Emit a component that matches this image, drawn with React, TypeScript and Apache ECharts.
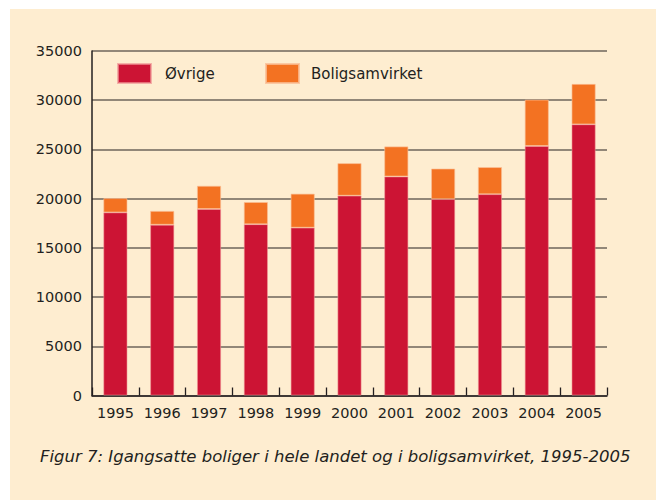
import React, { useEffect, useRef } from "react";
import * as echarts from "echarts";

const years = ["1995", "1996", "1997", "1998", "1999", "2000", "2001", "2002", "2003", "2004", "2005"];
const ovrige = [18600, 17350, 18950, 17400, 17050, 20300, 22250, 19950, 20450, 25350, 27550];
const boligsamvirket = [1450, 1400, 2350, 2250, 3450, 3300, 3050, 3100, 2750, 4700, 4100];
const caption = "Figur 7: Igangsatte boliger i hele landet og i boligsamvirket, 1995-2005";

const FONT = "'DejaVu Sans', 'Noto Sans', sans-serif";
const RED = "#CC1434";
const ORANGE = "#F37222";
const INK = "#231f20";

export default function App() {
  const ref = useRef<HTMLDivElement>(null);
  useEffect(() => {
    if (!ref.current) return;
    const chart = echarts.init(ref.current, null, { renderer: "svg" });
    chart.setOption({
      animation: false,
      backgroundColor: "#ffffff",
      textStyle: { fontFamily: FONT },
      grid: { left: 92, right: 49, top: 51, bottom: 104.5, containLabel: false },
      legend: [
        {
          data: ["Øvrige"],
          left: 117,
          top: 63,
          padding: 0,
          itemWidth: 33,
          itemHeight: 19,
          itemGap: 0,
          icon: "rect",
          textStyle: { fontFamily: FONT, fontSize: 15, color: INK, padding: [0, 0, 5, 9] },
          selectedMode: false,
        },
        {
          data: ["Boligsamvirket"],
          left: 265,
          top: 63,
          padding: 0,
          itemWidth: 33,
          itemHeight: 19,
          itemGap: 0,
          icon: "rect",
          textStyle: { fontFamily: FONT, fontSize: 15, color: INK, padding: [0, 0, 0, 7] },
          selectedMode: false,
        },
      ],
      xAxis: {
        type: "category",
        data: years,
        boundaryGap: true,
        axisLine: { show: true, lineStyle: { color: INK, width: 1.5 } },
        axisTick: { show: true, inside: true, length: 8, interval: 0, alignWithLabel: false, lineStyle: { color: INK, width: 1.3 } },
        axisLabel: { fontFamily: FONT, fontSize: 14.5, color: INK, margin: 10, interval: 0 },
      },
      yAxis: {
        type: "value",
        min: 0,
        max: 35000,
        interval: 5000,
        axisLine: { show: true, lineStyle: { color: INK, width: 1.5 } },
        axisTick: { show: false },
        splitLine: { show: true, lineStyle: { color: "#6e655b", width: 1.6 } },
        axisLabel: {
          fontFamily: FONT,
          fontSize: 14.5,
          color: INK,
          margin: 10,
          padding: [8, 0, 0, 0],
          formatter: (v: number) => String(v),
        },
      },
      graphic: [
        {
          type: "rect",
          z: -10,
          silent: true,
          shape: { x: 10, y: 9, width: 646, height: 491 },
          style: { fill: "#FEEDD0" },
        },
        {
          type: "text",
          x: 40,
          y: 456,
          style: {
            text: caption,
            font: `italic 16.5px ${FONT}`,
            fill: INK,
            verticalAlign: "middle",
          },
        },
      ],
      series: [
        {
          name: "Øvrige",
          type: "bar",
          stack: "total",
          data: ovrige,
          barWidth: 24,
          itemStyle: { color: RED, borderColor: "rgba(240,150,150,0.7)", borderWidth: 0.8 },
        },
        {
          name: "Boligsamvirket",
          type: "bar",
          stack: "total",
          data: boligsamvirket,
          barWidth: 24,
          itemStyle: { color: ORANGE, borderColor: "rgba(250,190,150,0.8)", borderWidth: 0.8 },
        },
      ],
    });
    return () => chart.dispose();
  }, []);
  return (
    <div
      ref={ref}
      style={{ position: "fixed", left: 0, top: 0, width: 656, height: 500 }}
    />
  );
}
